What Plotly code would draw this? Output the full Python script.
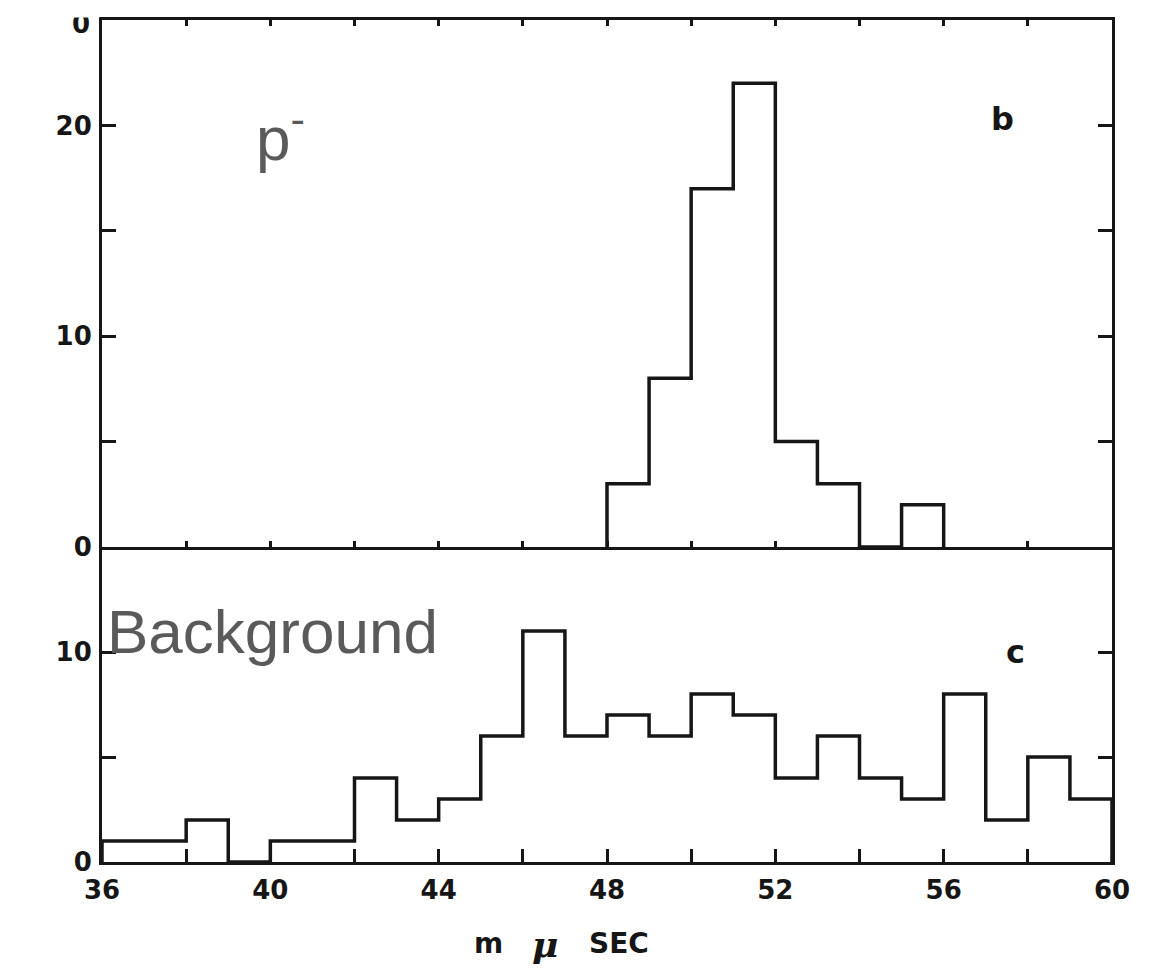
import plotly.graph_objects as go

# ---- data ----
bin_width = 1
# panel b (p-)
pm_left_edges = [48, 49, 50, 51, 52, 53, 54, 55]
pm_counts     = [3, 8, 17, 22, 5, 3, 0, 2]
# panel c (background)
bg_left_edges = list(range(36, 60))
bg_counts     = [1, 1, 2, 0, 1, 1, 4, 2, 3, 6, 11, 6, 7, 6, 8, 7, 4, 6, 4, 3, 8, 2, 5, 3]

x_tickvals = list(range(36, 61, 2))
x_ticktext = [str(v) if v % 4 == 0 else "" for v in x_tickvals]
top_y_tickvals = [0, 5, 10, 15, 20, 25]
top_y_ticktext = ["0", "", "10", "", "20", ""]
bot_y_tickvals = [0, 5, 10, 15]
bot_y_ticktext = ["0", "", "10", ""]


def step_xy(lefts, counts, width):
    xs = [lefts[0]] + list(lefts) + [lefts[-1] + width]
    ys = [0] + list(counts) + [0]
    return xs, ys


INK = "#161616"
W, H = 1158, 968
L, R, T, B = 102, 46, 20, 106
plot_w = W - L - R
plot_h = H - T - B
split = (862 - 547) / plot_h


def px(xp):
    return (xp - L) / plot_w


def py(yp):
    return (H - B - yp) / plot_h


fig = go.Figure()
xs, ys = step_xy(pm_left_edges, pm_counts, bin_width)
fig.add_trace(go.Scatter(x=xs, y=ys, mode="lines", line=dict(shape="hv", color=INK, width=3.5),
                         xaxis="x2", yaxis="y2", showlegend=False, hoverinfo="skip"))
xs, ys = step_xy(bg_left_edges, bg_counts, bin_width)
fig.add_trace(go.Scatter(x=xs, y=ys, mode="lines", line=dict(shape="hv", color=INK, width=3.5),
                         xaxis="x", yaxis="y", showlegend=False, hoverinfo="skip"))

tickfont = dict(family="DejaVu Sans", size=26, color=INK, weight="bold")
common_axis = dict(showgrid=False, zeroline=False, showline=True, linecolor=INK, linewidth=3,
                   tickcolor=INK, tickwidth=3, ticks="inside", tickfont=tickfont)

fig.update_layout(
    width=W, height=H,
    margin=dict(l=L, r=R, t=T, b=B),
    paper_bgcolor="white", plot_bgcolor="white",
    xaxis=dict(common_axis, domain=[0, 1], range=[36, 60], anchor="y",
               tickmode="array", tickvals=x_tickvals, ticktext=x_ticktext,
               ticklen=13, mirror=False, ticklabelstandoff=3),
    yaxis=dict(common_axis, domain=[0, split], range=[0, 15], anchor="x",
               tickmode="array", tickvals=bot_y_tickvals, ticktext=bot_y_ticktext,
               ticklen=14, mirror="ticks", ticklabelstandoff=2),
    xaxis2=dict(common_axis, domain=[0, 1], range=[36, 60], anchor="y2",
                tickmode="array", tickvals=x_tickvals, showticklabels=False,
                ticklen=6, mirror="ticks"),
    yaxis2=dict(common_axis, domain=[split, 1], range=[0, 25], anchor="x2",
                tickmode="array", tickvals=top_y_tickvals, ticktext=top_y_ticktext,
                ticklen=14, mirror="ticks", ticklabelstandoff=2),
)

label_font = dict(family="DejaVu Sans", size=32, color=INK, weight="bold")
big_font = dict(family="Liberation Sans", size=62, color="#5a5a5a")
fig.add_annotation(x=57.4, y=20.3, xref="x2", yref="y2", text="b", showarrow=False,
                   font=label_font, xanchor="center", yanchor="middle")
fig.add_annotation(x=57.7, y=10.0, xref="x", yref="y", text="c", showarrow=False,
                   font=label_font, xanchor="center", yanchor="middle")
fig.add_annotation(x=39.6, y=19.6, xref="x2", yref="y2", text="p<sup>-</sup>", showarrow=False,
                   font=big_font, xanchor="left", yanchor="middle")
fig.add_annotation(x=36.08, y=11.0, xref="x", yref="y", text="Background", showarrow=False,
                   font=big_font, xanchor="left", yanchor="middle")
# zero label of the panel above, cut by the top edge of the scan
fig.add_annotation(x=px(81), y=py(24), xref="paper", yref="paper", text="0", showarrow=False,
                   font=tickfont, xanchor="center", yanchor="middle")
fig.add_annotation(x=px(79), y=py(0), xref="paper", yref="paper", text=" ", showarrow=False,
                   bgcolor="white", width=40, height=16, xanchor="center", yanchor="top",
                   font=dict(size=10), borderpad=0)
# axis title "m μ SEC"
title_font = dict(family="DejaVu Sans", size=28, color=INK, weight="bold")
fig.add_annotation(x=px(488), y=py(943), xref="paper", yref="paper", text="m", showarrow=False,
                   font=title_font, xanchor="center", yanchor="middle")
fig.add_annotation(x=px(545), y=py(944), xref="paper", yref="paper", text="<i>\u03bc</i>",
                   showarrow=False, xanchor="center", yanchor="middle",
                   font=dict(family="DejaVu Serif", size=36, color=INK, weight="bold"))
fig.add_annotation(x=px(619), y=py(943), xref="paper", yref="paper", text="SEC", showarrow=False,
                   font=title_font, xanchor="center", yanchor="middle")

fig.write_html("out.html")
